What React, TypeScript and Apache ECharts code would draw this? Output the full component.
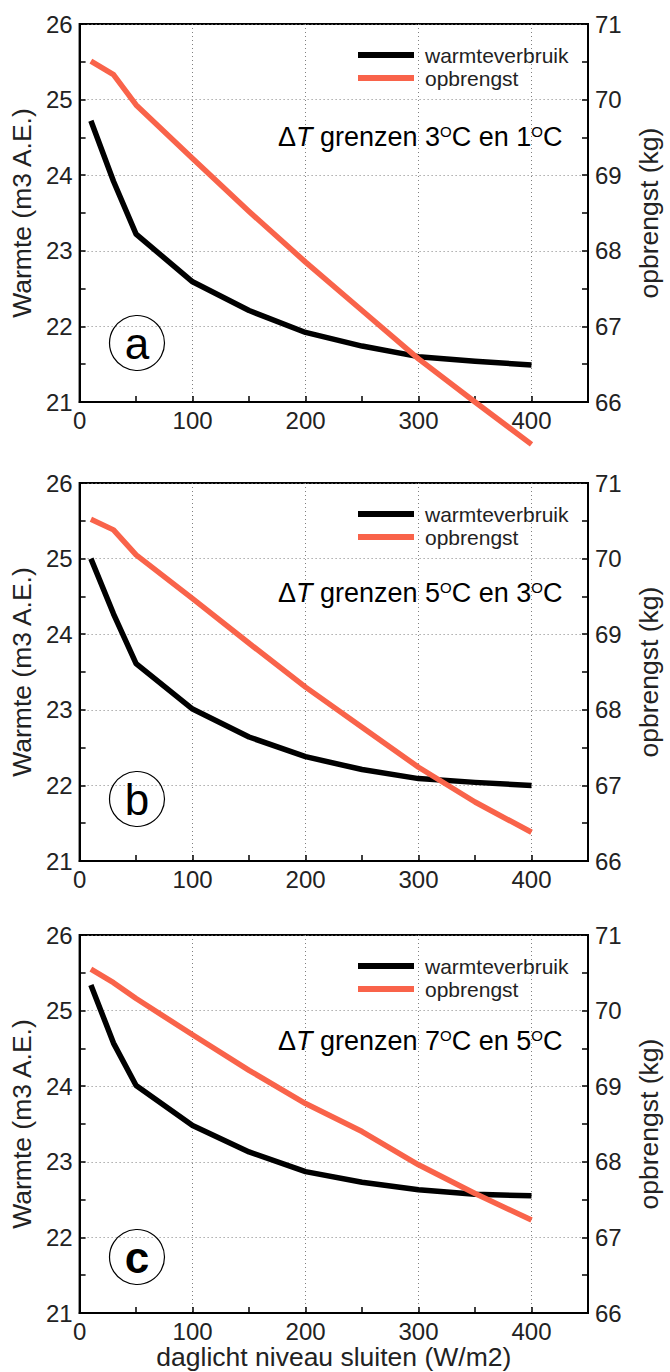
import React, { useEffect, useRef } from "react";
import * as echarts from "echarts";

const xValues = [10, 30, 50, 100, 150, 200, 250, 300, 350, 400];
const warmteA = [24.72, 23.92, 23.22, 22.59, 22.21, 21.92, 21.74, 21.6, 21.54, 21.49];
const opbrengstA = [70.51, 70.33, 69.93, 69.22, 68.52, 67.85, 67.21, 66.57, 66.0, 65.44];
const warmteB = [25.0, 24.27, 23.61, 23.01, 22.64, 22.38, 22.21, 22.09, 22.04, 22.0];
const opbrengstB = [70.52, 70.38, 70.05, 69.47, 68.88, 68.3, 67.77, 67.24, 66.78, 66.38];
const warmteC = [25.34, 24.57, 24.01, 23.48, 23.13, 22.87, 22.73, 22.63, 22.57, 22.55];
const opbrengstC = [70.55, 70.37, 70.16, 69.68, 69.21, 68.77, 68.4, 67.96, 67.58, 67.23];

const warmteSeries = [warmteA, warmteB, warmteC];
const opbrengstSeries = [opbrengstA, opbrengstB, opbrengstC];
const panelLetters = ["a", "b", "c"];
const deltaLimits = [
  ["3", "1"],
  ["5", "3"],
  ["7", "5"],
];
const seriesNames = ["warmteverbruik", "opbrengst"];
const leftAxisName = "Warmte (m3 A.E.)";
const rightAxisName = "opbrengst (kg)";
const xAxisName = "daglicht niveau sluiten (W/m2)";

const FONT = "Liberation Sans, Arial, Helvetica, sans-serif";
const BLACK = "#000000";
const ORANGE = "#F9634A";

const gridTops = [24, 483, 935];
const gridHeight = 378;
const gridLeft = 77.5;
const gridRight = 64;
const annotationY = [137, 593, 1041];
const circleY = [343, 799, 1257];

export default function App() {
  const ref = useRef<HTMLDivElement>(null);

  useEffect(() => {
    if (!ref.current) return;
    const chart = echarts.init(ref.current, null, { renderer: "svg" });

    const grids: any[] = [];
    const xAxes: any[] = [];
    const yAxes: any[] = [];
    const series: any[] = [];
    const legends: any[] = [];
    const graphics: any[] = [];

    for (let i = 0; i < 3; i++) {
      grids.push({
        left: gridLeft,
        right: gridRight,
        top: gridTops[i],
        height: gridHeight,
        show: true,
        borderColor: BLACK,
        borderWidth: 2,
        backgroundColor: "transparent",
      });
      xAxes.push({
        type: "value",
        gridIndex: i,
        min: 0,
        max: 450,
        interval: 50,
        position: "bottom",
        axisLine: { show: true, onZero: false, lineStyle: { color: BLACK, width: 2 } },
        axisTick: { show: true, inside: true, length: 6, lineStyle: { color: BLACK, width: 1.5 } },
        axisLabel: {
          margin: 6,
          fontSize: 24,
          color: "#222",
          fontFamily: FONT,
          formatter: (v: number) => (v % 100 === 0 && v <= 400 ? String(v) : ""),
        },
        splitLine: { show: false },
        name: i === 2 ? xAxisName : "",
        nameLocation: "middle",
        nameGap: 25,
        nameTextStyle: { fontSize: 26.5, color: "#222", fontFamily: FONT },
      });
      xAxes.push({
        type: "value",
        gridIndex: i,
        min: 0,
        max: 450,
        interval: 100,
        position: "top",
        axisLine: { show: false },
        axisTick: { show: false },
        axisLabel: { show: false },
        splitLine: { show: true, lineStyle: { color: "#808080", width: 1, type: [1, 3] } },
      });
      yAxes.push({
        type: "value",
        gridIndex: i,
        position: "left",
        min: 21,
        max: 26,
        interval: 1,
        axisLine: { show: true, onZero: false, lineStyle: { color: BLACK, width: 2 } },
        axisTick: { show: true, inside: true, length: 6, lineStyle: { color: BLACK, width: 1.5 } },
        minorTick: { show: true, splitNumber: 2, length: 6, lineStyle: { color: BLACK, width: 1.5 } },
        axisLabel: { margin: 7, fontSize: 24, color: "#222", fontFamily: FONT },
        splitLine: { show: true, lineStyle: { color: "#808080", width: 1, type: [1, 3] } },
        name: leftAxisName,
        nameLocation: "middle",
        nameGap: 35,
        nameTextStyle: { fontSize: 26.5, color: "#222", fontFamily: FONT },
      });
      yAxes.push({
        type: "value",
        gridIndex: i,
        position: "right",
        min: 66,
        max: 71,
        interval: 1,
        axisLine: { show: true, onZero: false, lineStyle: { color: BLACK, width: 2 } },
        axisTick: { show: true, inside: true, length: 6, lineStyle: { color: BLACK, width: 1.5 } },
        minorTick: { show: true, splitNumber: 2, length: 6, lineStyle: { color: BLACK, width: 1.5 } },
        axisLabel: { margin: 7, fontSize: 24, color: "#222", fontFamily: FONT },
        splitLine: { show: false },
        name: rightAxisName,
        nameLocation: "middle",
        nameGap: 47,
        nameTextStyle: { fontSize: 26.5, color: "#222", fontFamily: FONT },
      });
      series.push({
        type: "line",
        name: seriesNames[0],
        xAxisIndex: 2 * i,
        yAxisIndex: 2 * i,
        data: xValues.map((x, k) => [x, warmteSeries[i][k]]),
        symbol: "none",
        lineStyle: { color: BLACK, width: 5.5, join: "round" },
        itemStyle: { color: BLACK },
        clip: false,
        z: 3,
      });
      series.push({
        type: "line",
        name: seriesNames[1],
        xAxisIndex: 2 * i,
        yAxisIndex: 2 * i + 1,
        data: xValues.map((x, k) => [x, opbrengstSeries[i][k]]),
        symbol: "none",
        lineStyle: { color: ORANGE, width: 5.5, join: "round" },
        itemStyle: { color: ORANGE },
        clip: false,
        z: 4,
      });
      legends.push({
        data: seriesNames,
        orient: "vertical",
        left: 358,
        top: gridTops[i] + 20,
        icon: "rect",
        itemWidth: 56,
        itemHeight: 6,
        itemGap: 1,
        padding: 0,
        textStyle: { fontSize: 21, color: "#222", fontFamily: FONT, padding: [0, 0, 0, 6], lineHeight: 22 },
        selectedMode: false,
      });
      graphics.push({
        type: "text",
        x: 278,
        y: annotationY[i],
        style: {
          text: `{d|Δ}{t|T}{n| grenzen ${deltaLimits[i][0]}}{s|O}{n|C en ${deltaLimits[i][1]}}{s|O}{n|C}`,
          verticalAlign: "middle",
          align: "left",
          fill: "#000",
          fontFamily: FONT,
          fontSize: 27,
          rich: {
            d: { fontSize: 27, fontFamily: FONT, fill: "#000" },
            t: { fontSize: 27, fontFamily: FONT, fontStyle: "italic", fill: "#000" },
            n: { fontSize: 27, fontFamily: FONT, fill: "#000" },
            s: { fontSize: 15, fontFamily: FONT, fill: "#000", verticalAlign: "top" },
          },
        },
        z: 10,
      });
      graphics.push({
        type: "circle",
        shape: { cx: 137, cy: circleY[i], r: 27.5 },
        style: { fill: "none", stroke: "#000", lineWidth: 1.2 },
        z: 10,
      });
      graphics.push({
        type: "text",
        x: 137,
        y: circleY[i],
        style: {
          text: panelLetters[i],
          align: "center",
          verticalAlign: "middle",
          fontSize: 44,
          fontFamily: FONT,
          fontWeight: i === 2 ? "bold" : "normal",
          fill: "#000",
        },
        z: 10,
      });
    }

    chart.setOption({
      animation: false,
      backgroundColor: "#ffffff",
      textStyle: { fontFamily: FONT },
      grid: grids,
      xAxis: xAxes,
      yAxis: yAxes,
      series,
      legend: legends,
      graphic: graphics,
    });

    return () => chart.dispose();
  }, []);

  return (
    <div
      ref={ref}
      style={{ position: "absolute", left: 0, top: 0, width: 670, height: 1372 }}
    />
  );
}
